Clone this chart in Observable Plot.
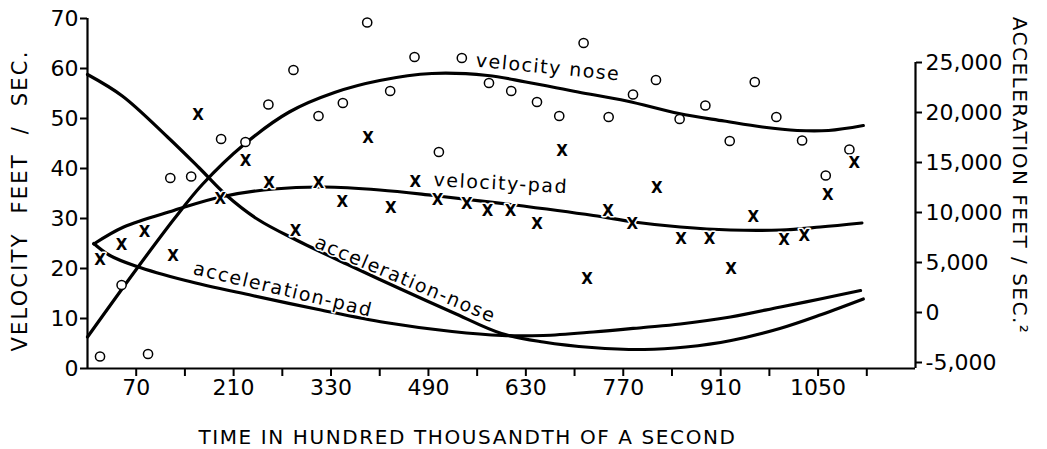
<!DOCTYPE html>
<html>
<head>
<meta charset="utf-8">
<script src="https://cdn.jsdelivr.net/npm/d3@7"></script>
<script src="https://cdn.jsdelivr.net/npm/@observablehq/plot@0.6"></script>
<style>
  html, body { margin: 0; padding: 0; background: #fff; }
  #chart { width: 1047px; height: 449px; }
</style>
</head>
<body>
<div id="chart"></div>
<script>
// ---- measured points: velocity of the nose (open circles) ----
const noseTime = [18, 49, 87, 119, 149, 192, 227, 260, 296, 332, 367, 402, 435, 470, 505, 538,
                  577, 609, 646, 678, 713, 749, 784, 817, 851, 888, 923, 959, 990, 1027, 1061, 1095];
const noseVel  = [2.4, 16.7, 2.9, 38.1, 38.4, 45.9, 45.3, 52.8, 59.7, 50.5, 53.1, 69.2, 55.5, 62.3, 43.3, 62.1,
                  57.1, 55.5, 53.3, 50.5, 65.1, 50.3, 54.8, 57.7, 49.9, 52.6, 45.5, 57.3, 50.3, 45.6, 38.6, 43.8];

// ---- measured points: velocity of the pad (x marks) ----
const padTime = [18, 49, 82, 123, 159, 191, 227, 261, 299, 332, 366, 403, 436, 471, 503, 545,
                 575, 608, 646, 682, 718, 748, 783, 818, 853, 894, 925, 957, 1001, 1030, 1064, 1102];
const padVel  = [21.7, 24.6, 27.3, 22.4, 50.6, 33.9, 41.4, 37.1, 27.5, 37.1, 33.3, 46.1, 32.1, 37.3, 33.7, 32.8,
                 31.5, 31.5, 28.9, 43.4, 17.8, 31.5, 28.9, 36.1, 25.8, 25.9, 19.9, 30.3, 25.6, 26.4, 34.6, 41.1];

// ---- fitted curves ----
const velNoseCurveTime = [0, 70, 125, 165, 225, 290, 355, 420, 495, 575, 630, 705, 775, 850, 915, 970, 1020, 1065, 1115];
const velNoseCurveVel  = [6.3, 19.8, 30.0, 36.8, 44.8, 51.3, 55.2, 57.6, 59.0, 58.6, 57.3, 55.3, 53.5, 51.0, 49.5, 48.3, 47.6, 47.6, 48.6];

const velPadCurveTime = [9, 52, 124, 191, 268, 340, 420, 497, 608, 727, 785, 852, 924, 996, 1053, 1113];
const velPadCurveVel  = [24.9, 28.3, 31.6, 34.3, 35.9, 36.3, 35.7, 34.6, 32.8, 30.6, 29.3, 28.3, 27.7, 27.7, 28.3, 29.1];

// acceleration curves in feet / sec^2 (right-hand scale)
const accNoseCurveTime = [0, 50, 115, 160, 200, 245, 300, 380, 450, 525, 595, 655, 725, 800, 860, 925, 995, 1055, 1115];
const accNoseCurveAcc  = [23800, 21650, 17550, 14500, 11700, 9300, 7250, 4600, 2350, 0, -2100, -2950, -3500, -3700, -3450, -2800, -1600, -200, 1350];

const accPadCurveTime = [9, 31, 69, 141, 237, 332, 428, 524, 596, 655, 727, 799, 852, 924, 996, 1053, 1111];
const accPadCurveAcc  = [6900, 5750, 4650, 3200, 1700, 300, -1000, -1900, -2300, -2300, -1950, -1500, -1150, -450, 550, 1350, 2200];

// ---- axes ----
const timeTicks = [70, 140, 210, 280, 350, 420, 490, 560, 630, 700, 770, 840, 910, 980, 1050, 1120];
const timeLabelTicks = [70, 210, 350, 490, 630, 770, 910, 1050];
const timeLabels = ["70", "210", "330", "490", "630", "770", "910", "1050"];
const velTicks = [0, 10, 20, 30, 40, 50, 60, 70];
const accTicks = [-5000, 0, 5000, 10000, 15000, 20000, 25000];
const accLabels = ["-5,000", "0", "5,000", "10,000", "15,000", "20,000", "25,000"];

// curve annotations
const annotations = [
  {label: "velocity nose", t: 662, v: 60.2, angle: 5.5},
  {label: "velocity-pad", t: 594, v: 37.0, angle: 3},
  {label: "acceleration-nose", t: 457, v: 17.8, angle: 23},
  {label: "acceleration-pad", t: 281, v: 15.8, angle: 13.5}
];

const titles = {
  x: "TIME IN HUNDRED THOUSANDTH OF A SECOND",
  yLeft: "VELOCITY FEET / SEC.",
  yRight: "ACCELERATION FEET / SEC.\u00B2"
};

// ---- build tables ----
const accToV = a => 1.2 + (a + 5000) / 500;   // right scale expressed in left-scale units
const tMax = 1190;

const noseData = noseTime.map((t, i) => ({t, v: noseVel[i]}));
const padData = padTime.map((t, i) => ({t, v: padVel[i]}));
const curves = [
  velNoseCurveTime.map((t, i) => ({t, v: velNoseCurveVel[i], k: "vn"})),
  velPadCurveTime.map((t, i) => ({t, v: velPadCurveVel[i], k: "vp"})),
  accNoseCurveTime.map((t, i) => ({t, v: accToV(accNoseCurveAcc[i]), k: "an"})),
  accPadCurveTime.map((t, i) => ({t, v: accToV(accPadCurveAcc[i]), k: "ap"}))
].flat();

const timeLabelMap = new Map(timeLabelTicks.map((t, i) => [t, timeLabels[i]]));
const accTickV = accTicks.map(accToV);
const accFmt = d => {
  const i = accTickV.findIndex(v => Math.abs(v - d) < 1e-9);
  return i >= 0 ? accLabels[i] : "";
};

const chart = Plot.plot({
  width: 1047,
  height: 449,
  marginLeft: 87,
  marginRight: 132,
  marginTop: 18,
  marginBottom: 81,
  x: {domain: [0, tMax]},
  y: {domain: [0, 70]},
  style: {fontFamily: "'DejaVu Sans', sans-serif", color: "#000", background: "#fff", overflow: "visible"},
  marks: [
    Plot.axisY({ticks: velTicks, tickFormat: d => String(d), tickSize: 7, tickPadding: 2,
                fontSize: 22, strokeWidth: 2, label: null}),
    Plot.axisY({anchor: "right", ticks: accTickV, tickFormat: accFmt, tickSize: 6, tickPadding: 4,
                fontSize: 22, strokeWidth: 2, label: null}),
    Plot.axisX({ticks: timeTicks, tickFormat: d => timeLabelMap.get(d) ?? "", tickSize: 8, tickPadding: 3,
                fontSize: 22, strokeWidth: 2, label: null}),
    Plot.ruleX([0], {y1: 0, y2: 70, strokeWidth: 2.2}),
    Plot.ruleX([tMax], {y1: 0, y2: accToV(25000), strokeWidth: 2.2}),
    Plot.ruleY([0], {strokeWidth: 2.2}),
    Plot.line(curves, {x: "t", y: "v", z: "k", curve: "catmull-rom", stroke: "#000", strokeWidth: 3.2}),
    Plot.text(annotations, {x: "t", y: "v", text: "label", rotate: "angle", fontSize: 19,
                            fill: "#000", stroke: "#fff", strokeWidth: 3}),
    Plot.dot(noseData, {x: "t", y: "v", r: 4.6, fill: "#fff", stroke: "#000", strokeWidth: 1.5}),
    Plot.text(padData, {x: "t", y: "v", text: () => "X", fontSize: 15, fontWeight: "bold", lineAnchor: "middle",
                        fill: "#000", stroke: "#fff", strokeWidth: 3}),
    Plot.text([titles.yLeft], {frameAnchor: "left", textAnchor: "middle", lineAnchor: "middle",
                               rotate: -90, dx: -67, dy: 7, fontSize: 21}),
    Plot.text([titles.yRight], {frameAnchor: "right", textAnchor: "middle", lineAnchor: "middle",
                                rotate: 90, dx: 104, dy: -18, fontSize: 20}),
    Plot.text([titles.x], {frameAnchor: "bottom", textAnchor: "middle", lineAnchor: "middle",
                           dx: -34, dy: 69, fontSize: 20})
  ]
});

// letter spacing to imitate the wide drafting lettering
chart.querySelectorAll("text").forEach(el => {
  const s = el.textContent;
  if (s === titles.x) { el.style.letterSpacing = "1.6px"; }
  else if (s === titles.yLeft) { el.style.letterSpacing = "2.2px"; el.style.wordSpacing = "10px"; }
  else if (s === titles.yRight) { el.style.letterSpacing = "1.5px"; }
  else if (annotations.some(a => a.label === s)) { el.style.letterSpacing = "1.5px"; }
});

document.getElementById("chart").appendChild(chart);
</script>
</body>
</html>
